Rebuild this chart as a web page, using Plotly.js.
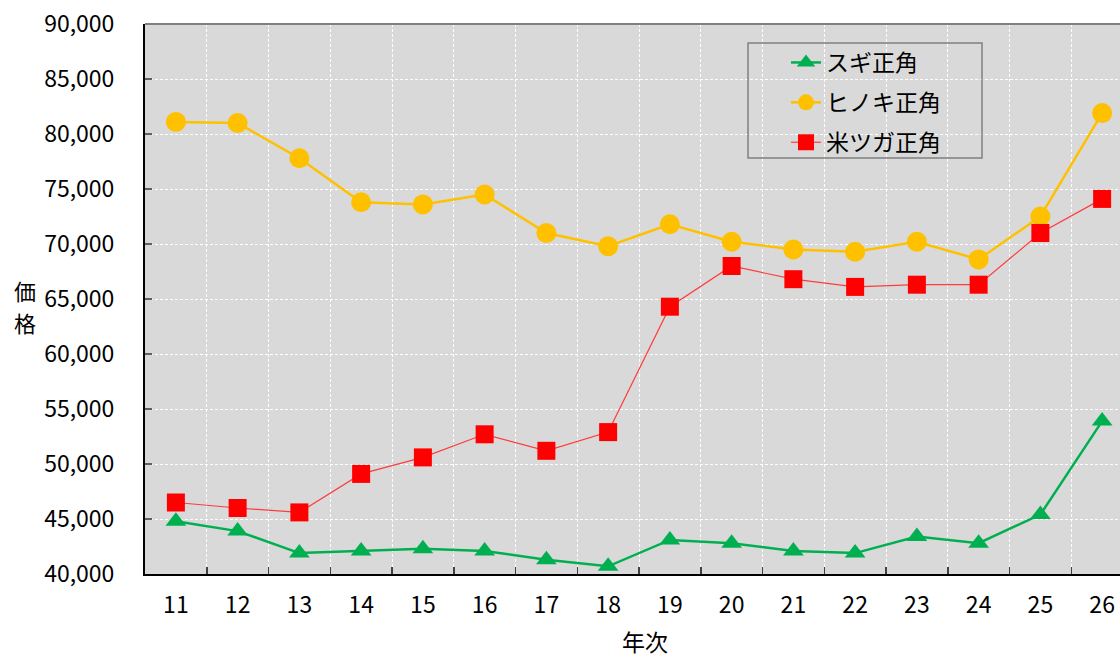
<!DOCTYPE html>
<html>
<head>
<meta charset="utf-8">
<script src="https://cdn.plot.ly/plotly-3.0.1.min.js"></script>
<style>
html,body{margin:0;padding:0;overflow:hidden;background:#fff;}
#chart{width:1140px;height:657px;}
</style>
</head>
<body>
<div id="chart"></div>
<script>
const years = ["11","12","13","14","15","16","17","18","19","20","21","22","23","24","25","26"];
const sugi = [44800,43900,41900,42100,42300,42100,41300,40700,43100,42800,42100,41900,43400,42800,45400,53900];
const hinoki = [81100,81000,77800,73800,73600,74500,71000,69800,71800,70200,69500,69300,70200,68600,72500,81900];
const beitsuga = [46500,46000,45600,49100,50600,52700,51200,52900,64300,68000,66800,66100,66300,66300,71000,74100];
const seriesNames = ["スギ正角","ヒノキ正角","米ツガ正角"];
const yTicks = [40000,45000,50000,55000,60000,65000,70000,75000,80000,85000,90000];
const yTickText = ["40,000","45,000","50,000","55,000","60,000","65,000","70,000","75,000","80,000","85,000","90,000"];

const FONT = "'Noto Sans CJK JP', 'Noto Sans', sans-serif";

// plot geometry helpers (paper coords)
const L = 145, T = 24, W = 1140, H = 657, R = 7, B = 83;
const PW = W - L - R, PH = H - T - B;
const px = x => (x - L) / PW;
const py = y => (H - B - y) / PH;

const traces = [
  {x: years, y: sugi, name: seriesNames[0], legendgroup: "a", type: "scatter", mode: "lines+markers",
   line: {color: "#00b050", width: 2.5},
   marker: {symbol: "triangle-up", size: 18, color: "#00b050"}},
  {x: years, y: hinoki, name: seriesNames[1], legendgroup: "b", type: "scatter", mode: "lines+markers",
   line: {color: "#ffc000", width: 2.5},
   marker: {symbol: "circle", size: 20, color: "#ffc000"}},
  {x: years, y: beitsuga, name: seriesNames[2], legendgroup: "c", type: "scatter", mode: "lines+markers",
   line: {color: "#ff3b3b", width: 1.2},
   marker: {symbol: "square", size: 18, color: "#ff0000"}}
];

const layout = {
  width: W, height: H,
  margin: {l: L, r: R, t: T, b: B},
  paper_bgcolor: "#ffffff",
  plot_bgcolor: "#d9d9d9",
  font: {family: FONT, size: 23, color: "#000"},
  showlegend: true,
  legend: {
    x: px(786), y: py(41), xanchor: "left", yanchor: "top",
    bgcolor: "rgba(0,0,0,0)", borderwidth: 0,
    tracegroupgap: 7,
    font: {family: FONT, size: 23, color: "#000"}
  },
  xaxis: {
    type: "category",
    range: [-0.5, 15.5],
    tickson: "boundaries",
    ticks: "inside", ticklen: 7, tickwidth: 1.5, tickcolor: "#404040",
    showgrid: true, gridcolor: "#ffffff", gridwidth: 1, griddash: "3px,2px",
    showline: true, linecolor: "#000", linewidth: 2,
    tickfont: {family: FONT, size: 23, color: "#000"},
    ticklabelstandoff: 9,
    fixedrange: true
  },
  yaxis: {
    range: [40000, 90000],
    tickvals: yTicks,
    ticktext: yTickText,
    ticks: "inside", ticklen: 7, tickwidth: 1.5, tickcolor: "#606060",
    showgrid: true, gridcolor: "#ffffff", gridwidth: 1, griddash: "3px,2px",
    showline: true, linecolor: "#000", linewidth: 2,
    zeroline: false,
    tickfont: {family: FONT, size: 23, color: "#000"},
    ticklabelstandoff: 24,
    fixedrange: true
  },
  shapes: [
    {type: "line", xref: "paper", yref: "paper", x0: 0, x1: 1, y0: 1, y1: 1,
     line: {color: "#808080", width: 2}},
    {type: "rect", xref: "paper", yref: "paper", x0: px(748), x1: px(982), y0: py(43), y1: py(158),
     line: {color: "#808080", width: 1.5}, fillcolor: "rgba(0,0,0,0)"}
  ],
  annotations: [
    {text: "価", xref: "paper", yref: "paper", x: px(25), y: py(290),
     xanchor: "center", yanchor: "middle", showarrow: false,
     font: {family: FONT, size: 22, color: "#000"}},
    {text: "格", xref: "paper", yref: "paper", x: px(25), y: py(322),
     xanchor: "center", yanchor: "middle", showarrow: false,
     font: {family: FONT, size: 22, color: "#000"}},
    {text: "年次", xref: "paper", yref: "paper", x: px(645), y: py(641),
     xanchor: "center", yanchor: "middle", showarrow: false,
     font: {family: FONT, size: 23, color: "#000"}}
  ]
};

Plotly.newPlot("chart", traces, layout, {displayModeBar: false, staticPlot: true});
</script>
</body>
</html>
